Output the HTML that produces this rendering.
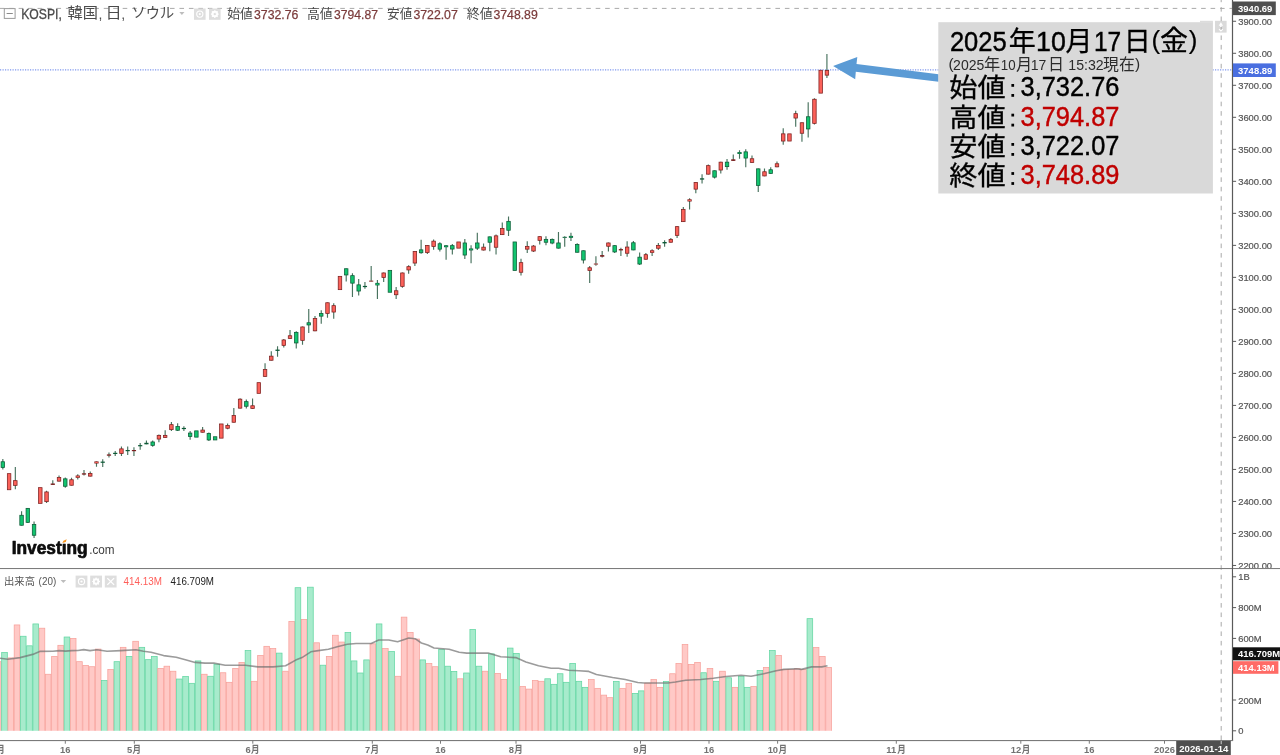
<!DOCTYPE html>
<html lang="ja"><head><meta charset="utf-8"><title>KOSPI chart</title>
<style>
html,body{margin:0;padding:0;background:#fff}
body{width:1280px;height:755px;overflow:hidden;position:relative;font-family:"Liberation Sans",sans-serif}
#c{position:absolute;left:0;top:0;width:1280px;height:755px;overflow:hidden;will-change:transform;transform:translateZ(0)}
#c svg{position:absolute;left:0;top:0}
</style></head>
<body><div id="c">
<svg width="1280" height="755" viewBox="0 0 1280 755">
<line x1="0" y1="69.9" x2="1232.5" y2="69.9" stroke="#7f97ee" stroke-width="1.1" stroke-dasharray="1.2 1.3"/>
<rect x="1215" y="20.8" width="11.6" height="11.8" fill="#dadada"/>
<line x1="-0.3" y1="8.4" x2="1232.5" y2="8.4" stroke="#a9a9a9" stroke-width="1" stroke-dasharray="4.6 4.86"/>
<line x1="1221.2" y1="-2.4" x2="1221.2" y2="740" stroke="#a9a9a9" stroke-width="1" stroke-dasharray="4.6 4.86"/>
<g><rect x="-4.55" y="661.68" width="5.64" height="71.42" fill="#ffc9c6" stroke="#f7a19b" stroke-width="0.75"/><rect x="1.69" y="652.62" width="5.64" height="80.48" fill="#a7ebcc" stroke="#62d6a2" stroke-width="0.75"/><rect x="7.94" y="657.9" width="5.64" height="75.2" fill="#ffc9c6" stroke="#f7a19b" stroke-width="0.75"/><rect x="14.18" y="624.94" width="5.64" height="108.16" fill="#ffc9c6" stroke="#f7a19b" stroke-width="0.75"/><rect x="20.42" y="636.26" width="5.64" height="96.84" fill="#a7ebcc" stroke="#62d6a2" stroke-width="0.75"/><rect x="26.67" y="645.82" width="5.64" height="87.28" fill="#a7ebcc" stroke="#62d6a2" stroke-width="0.75"/><rect x="32.91" y="623.93" width="5.64" height="109.17" fill="#a7ebcc" stroke="#62d6a2" stroke-width="0.75"/><rect x="39.15" y="628.21" width="5.64" height="104.89" fill="#ffc9c6" stroke="#f7a19b" stroke-width="0.75"/><rect x="45.39" y="674.26" width="5.64" height="58.84" fill="#ffc9c6" stroke="#f7a19b" stroke-width="0.75"/><rect x="51.64" y="656.39" width="5.64" height="76.71" fill="#ffc9c6" stroke="#f7a19b" stroke-width="0.75"/><rect x="57.88" y="645.32" width="5.64" height="87.78" fill="#ffc9c6" stroke="#f7a19b" stroke-width="0.75"/><rect x="64.12" y="637.02" width="5.64" height="96.08" fill="#a7ebcc" stroke="#62d6a2" stroke-width="0.75"/><rect x="70.37" y="638.53" width="5.64" height="94.57" fill="#ffc9c6" stroke="#f7a19b" stroke-width="0.75"/><rect x="76.61" y="661.68" width="5.64" height="71.42" fill="#ffc9c6" stroke="#f7a19b" stroke-width="0.75"/><rect x="82.85" y="665.45" width="5.64" height="67.65" fill="#ffc9c6" stroke="#f7a19b" stroke-width="0.75"/><rect x="89.09" y="666.71" width="5.64" height="66.39" fill="#ffc9c6" stroke="#f7a19b" stroke-width="0.75"/><rect x="95.34" y="649.09" width="5.64" height="84.01" fill="#ffc9c6" stroke="#f7a19b" stroke-width="0.75"/><rect x="101.58" y="680.55" width="5.64" height="52.55" fill="#a7ebcc" stroke="#62d6a2" stroke-width="0.75"/><rect x="107.82" y="669.48" width="5.64" height="63.62" fill="#ffc9c6" stroke="#f7a19b" stroke-width="0.75"/><rect x="114.07" y="661.68" width="5.64" height="71.42" fill="#a7ebcc" stroke="#62d6a2" stroke-width="0.75"/><rect x="120.31" y="647.33" width="5.64" height="85.77" fill="#ffc9c6" stroke="#f7a19b" stroke-width="0.75"/><rect x="126.55" y="656.39" width="5.64" height="76.71" fill="#a7ebcc" stroke="#62d6a2" stroke-width="0.75"/><rect x="132.8" y="641.29" width="5.64" height="91.81" fill="#ffc9c6" stroke="#f7a19b" stroke-width="0.75"/><rect x="139.04" y="647.33" width="5.64" height="85.77" fill="#a7ebcc" stroke="#62d6a2" stroke-width="0.75"/><rect x="145.28" y="659.66" width="5.64" height="73.44" fill="#a7ebcc" stroke="#62d6a2" stroke-width="0.75"/><rect x="151.53" y="656.39" width="5.64" height="76.71" fill="#a7ebcc" stroke="#62d6a2" stroke-width="0.75"/><rect x="157.77" y="668.47" width="5.64" height="64.63" fill="#ffc9c6" stroke="#f7a19b" stroke-width="0.75"/><rect x="164.01" y="666.21" width="5.64" height="66.89" fill="#ffc9c6" stroke="#f7a19b" stroke-width="0.75"/><rect x="170.25" y="671.24" width="5.64" height="61.86" fill="#ffc9c6" stroke="#f7a19b" stroke-width="0.75"/><rect x="176.5" y="679.04" width="5.64" height="54.06" fill="#a7ebcc" stroke="#62d6a2" stroke-width="0.75"/><rect x="182.74" y="676.52" width="5.64" height="56.58" fill="#a7ebcc" stroke="#62d6a2" stroke-width="0.75"/><rect x="188.98" y="683.32" width="5.64" height="49.78" fill="#a7ebcc" stroke="#62d6a2" stroke-width="0.75"/><rect x="195.23" y="660.92" width="5.64" height="72.18" fill="#a7ebcc" stroke="#62d6a2" stroke-width="0.75"/><rect x="201.47" y="674.26" width="5.64" height="58.84" fill="#ffc9c6" stroke="#f7a19b" stroke-width="0.75"/><rect x="207.71" y="676.27" width="5.64" height="56.83" fill="#a7ebcc" stroke="#62d6a2" stroke-width="0.75"/><rect x="213.96" y="664.19" width="5.64" height="68.91" fill="#a7ebcc" stroke="#62d6a2" stroke-width="0.75"/><rect x="220.2" y="672.75" width="5.64" height="60.35" fill="#ffc9c6" stroke="#f7a19b" stroke-width="0.75"/><rect x="226.44" y="682.31" width="5.64" height="50.79" fill="#ffc9c6" stroke="#f7a19b" stroke-width="0.75"/><rect x="232.68" y="668.47" width="5.64" height="64.63" fill="#ffc9c6" stroke="#f7a19b" stroke-width="0.75"/><rect x="238.93" y="662.43" width="5.64" height="70.67" fill="#ffc9c6" stroke="#f7a19b" stroke-width="0.75"/><rect x="245.17" y="650.6" width="5.64" height="82.5" fill="#a7ebcc" stroke="#62d6a2" stroke-width="0.75"/><rect x="251.41" y="681.3" width="5.64" height="51.8" fill="#ffc9c6" stroke="#f7a19b" stroke-width="0.75"/><rect x="257.66" y="655.39" width="5.64" height="77.71" fill="#ffc9c6" stroke="#f7a19b" stroke-width="0.75"/><rect x="263.9" y="646.33" width="5.64" height="86.77" fill="#ffc9c6" stroke="#f7a19b" stroke-width="0.75"/><rect x="270.14" y="648.59" width="5.64" height="84.51" fill="#ffc9c6" stroke="#f7a19b" stroke-width="0.75"/><rect x="276.39" y="653.12" width="5.64" height="79.98" fill="#a7ebcc" stroke="#62d6a2" stroke-width="0.75"/><rect x="282.63" y="671.24" width="5.64" height="61.86" fill="#ffc9c6" stroke="#f7a19b" stroke-width="0.75"/><rect x="288.87" y="621.41" width="5.64" height="111.69" fill="#ffc9c6" stroke="#f7a19b" stroke-width="0.75"/><rect x="295.11" y="587.7" width="5.64" height="145.4" fill="#a7ebcc" stroke="#62d6a2" stroke-width="0.75"/><rect x="301.36" y="619.4" width="5.64" height="113.7" fill="#ffc9c6" stroke="#f7a19b" stroke-width="0.75"/><rect x="307.6" y="587.19" width="5.64" height="145.91" fill="#a7ebcc" stroke="#62d6a2" stroke-width="0.75"/><rect x="313.84" y="642.8" width="5.64" height="90.3" fill="#ffc9c6" stroke="#f7a19b" stroke-width="0.75"/><rect x="320.09" y="665.2" width="5.64" height="67.9" fill="#a7ebcc" stroke="#62d6a2" stroke-width="0.75"/><rect x="326.33" y="656.39" width="5.64" height="76.71" fill="#ffc9c6" stroke="#f7a19b" stroke-width="0.75"/><rect x="332.57" y="635.25" width="5.64" height="97.85" fill="#ffc9c6" stroke="#f7a19b" stroke-width="0.75"/><rect x="338.82" y="642.05" width="5.64" height="91.05" fill="#ffc9c6" stroke="#f7a19b" stroke-width="0.75"/><rect x="345.06" y="632.49" width="5.64" height="100.61" fill="#a7ebcc" stroke="#62d6a2" stroke-width="0.75"/><rect x="351.3" y="660.92" width="5.64" height="72.18" fill="#a7ebcc" stroke="#62d6a2" stroke-width="0.75"/><rect x="357.54" y="673" width="5.64" height="60.1" fill="#a7ebcc" stroke="#62d6a2" stroke-width="0.75"/><rect x="363.79" y="659.91" width="5.64" height="73.19" fill="#a7ebcc" stroke="#62d6a2" stroke-width="0.75"/><rect x="370.03" y="643.81" width="5.64" height="89.29" fill="#ffc9c6" stroke="#f7a19b" stroke-width="0.75"/><rect x="376.27" y="623.93" width="5.64" height="109.17" fill="#a7ebcc" stroke="#62d6a2" stroke-width="0.75"/><rect x="382.52" y="648.59" width="5.64" height="84.51" fill="#ffc9c6" stroke="#f7a19b" stroke-width="0.75"/><rect x="388.76" y="651.61" width="5.64" height="81.49" fill="#a7ebcc" stroke="#62d6a2" stroke-width="0.75"/><rect x="395" y="676.27" width="5.64" height="56.83" fill="#ffc9c6" stroke="#f7a19b" stroke-width="0.75"/><rect x="401.25" y="617.14" width="5.64" height="115.96" fill="#ffc9c6" stroke="#f7a19b" stroke-width="0.75"/><rect x="407.49" y="632.49" width="5.64" height="100.61" fill="#ffc9c6" stroke="#f7a19b" stroke-width="0.75"/><rect x="413.73" y="639.03" width="5.64" height="94.07" fill="#ffc9c6" stroke="#f7a19b" stroke-width="0.75"/><rect x="419.97" y="659.91" width="5.64" height="73.19" fill="#a7ebcc" stroke="#62d6a2" stroke-width="0.75"/><rect x="426.22" y="663.44" width="5.64" height="69.66" fill="#ffc9c6" stroke="#f7a19b" stroke-width="0.75"/><rect x="432.46" y="666.71" width="5.64" height="66.39" fill="#ffc9c6" stroke="#f7a19b" stroke-width="0.75"/><rect x="438.7" y="649.6" width="5.64" height="83.5" fill="#a7ebcc" stroke="#62d6a2" stroke-width="0.75"/><rect x="444.95" y="666.21" width="5.64" height="66.89" fill="#a7ebcc" stroke="#62d6a2" stroke-width="0.75"/><rect x="451.19" y="671.49" width="5.64" height="61.61" fill="#a7ebcc" stroke="#62d6a2" stroke-width="0.75"/><rect x="457.43" y="678.79" width="5.64" height="54.31" fill="#ffc9c6" stroke="#f7a19b" stroke-width="0.75"/><rect x="463.68" y="673" width="5.64" height="60.1" fill="#a7ebcc" stroke="#62d6a2" stroke-width="0.75"/><rect x="469.92" y="629.47" width="5.64" height="103.63" fill="#a7ebcc" stroke="#62d6a2" stroke-width="0.75"/><rect x="476.16" y="666.21" width="5.64" height="66.89" fill="#a7ebcc" stroke="#62d6a2" stroke-width="0.75"/><rect x="482.4" y="671.24" width="5.64" height="61.86" fill="#ffc9c6" stroke="#f7a19b" stroke-width="0.75"/><rect x="488.65" y="653.88" width="5.64" height="79.22" fill="#a7ebcc" stroke="#62d6a2" stroke-width="0.75"/><rect x="494.89" y="673.5" width="5.64" height="59.6" fill="#ffc9c6" stroke="#f7a19b" stroke-width="0.75"/><rect x="501.13" y="679.54" width="5.64" height="53.56" fill="#ffc9c6" stroke="#f7a19b" stroke-width="0.75"/><rect x="507.38" y="648.09" width="5.64" height="85.01" fill="#a7ebcc" stroke="#62d6a2" stroke-width="0.75"/><rect x="513.62" y="653.37" width="5.64" height="79.73" fill="#a7ebcc" stroke="#62d6a2" stroke-width="0.75"/><rect x="519.86" y="686.59" width="5.64" height="46.51" fill="#ffc9c6" stroke="#f7a19b" stroke-width="0.75"/><rect x="526.1" y="689.1" width="5.64" height="44" fill="#ffc9c6" stroke="#f7a19b" stroke-width="0.75"/><rect x="532.35" y="680.55" width="5.64" height="52.55" fill="#ffc9c6" stroke="#f7a19b" stroke-width="0.75"/><rect x="538.59" y="681.3" width="5.64" height="51.8" fill="#ffc9c6" stroke="#f7a19b" stroke-width="0.75"/><rect x="544.83" y="678.79" width="5.64" height="54.31" fill="#a7ebcc" stroke="#62d6a2" stroke-width="0.75"/><rect x="551.08" y="684.32" width="5.64" height="48.78" fill="#a7ebcc" stroke="#62d6a2" stroke-width="0.75"/><rect x="557.32" y="673.75" width="5.64" height="59.35" fill="#a7ebcc" stroke="#62d6a2" stroke-width="0.75"/><rect x="563.56" y="682.31" width="5.64" height="50.79" fill="#a7ebcc" stroke="#62d6a2" stroke-width="0.75"/><rect x="569.81" y="663.44" width="5.64" height="69.66" fill="#a7ebcc" stroke="#62d6a2" stroke-width="0.75"/><rect x="576.05" y="681.3" width="5.64" height="51.8" fill="#a7ebcc" stroke="#62d6a2" stroke-width="0.75"/><rect x="582.29" y="687.34" width="5.64" height="45.76" fill="#a7ebcc" stroke="#62d6a2" stroke-width="0.75"/><rect x="588.53" y="679.54" width="5.64" height="53.56" fill="#ffc9c6" stroke="#f7a19b" stroke-width="0.75"/><rect x="594.78" y="688.35" width="5.64" height="44.75" fill="#ffc9c6" stroke="#f7a19b" stroke-width="0.75"/><rect x="601.02" y="695.14" width="5.64" height="37.96" fill="#ffc9c6" stroke="#f7a19b" stroke-width="0.75"/><rect x="607.26" y="697.66" width="5.64" height="35.44" fill="#ffc9c6" stroke="#f7a19b" stroke-width="0.75"/><rect x="613.51" y="681.56" width="5.64" height="51.54" fill="#a7ebcc" stroke="#62d6a2" stroke-width="0.75"/><rect x="619.75" y="688.35" width="5.64" height="44.75" fill="#ffc9c6" stroke="#f7a19b" stroke-width="0.75"/><rect x="625.99" y="683.57" width="5.64" height="49.53" fill="#ffc9c6" stroke="#f7a19b" stroke-width="0.75"/><rect x="632.24" y="693.38" width="5.64" height="39.72" fill="#a7ebcc" stroke="#62d6a2" stroke-width="0.75"/><rect x="638.48" y="690.87" width="5.64" height="42.23" fill="#a7ebcc" stroke="#62d6a2" stroke-width="0.75"/><rect x="644.72" y="683.07" width="5.64" height="50.03" fill="#ffc9c6" stroke="#f7a19b" stroke-width="0.75"/><rect x="650.96" y="679.54" width="5.64" height="53.56" fill="#ffc9c6" stroke="#f7a19b" stroke-width="0.75"/><rect x="657.21" y="687.34" width="5.64" height="45.76" fill="#ffc9c6" stroke="#f7a19b" stroke-width="0.75"/><rect x="663.45" y="681.56" width="5.64" height="51.54" fill="#a7ebcc" stroke="#62d6a2" stroke-width="0.75"/><rect x="669.69" y="673.75" width="5.64" height="59.35" fill="#ffc9c6" stroke="#f7a19b" stroke-width="0.75"/><rect x="675.94" y="663.44" width="5.64" height="69.66" fill="#ffc9c6" stroke="#f7a19b" stroke-width="0.75"/><rect x="682.18" y="644.57" width="5.64" height="88.53" fill="#ffc9c6" stroke="#f7a19b" stroke-width="0.75"/><rect x="688.42" y="664.44" width="5.64" height="68.66" fill="#ffc9c6" stroke="#f7a19b" stroke-width="0.75"/><rect x="694.67" y="662.43" width="5.64" height="70.67" fill="#ffc9c6" stroke="#f7a19b" stroke-width="0.75"/><rect x="700.91" y="672.75" width="5.64" height="60.35" fill="#a7ebcc" stroke="#62d6a2" stroke-width="0.75"/><rect x="707.15" y="668.47" width="5.64" height="64.63" fill="#ffc9c6" stroke="#f7a19b" stroke-width="0.75"/><rect x="713.39" y="681.3" width="5.64" height="51.8" fill="#a7ebcc" stroke="#62d6a2" stroke-width="0.75"/><rect x="719.64" y="671.24" width="5.64" height="61.86" fill="#ffc9c6" stroke="#f7a19b" stroke-width="0.75"/><rect x="725.88" y="677.78" width="5.64" height="55.32" fill="#a7ebcc" stroke="#62d6a2" stroke-width="0.75"/><rect x="732.12" y="687.34" width="5.64" height="45.76" fill="#ffc9c6" stroke="#f7a19b" stroke-width="0.75"/><rect x="738.37" y="676.27" width="5.64" height="56.83" fill="#a7ebcc" stroke="#62d6a2" stroke-width="0.75"/><rect x="744.61" y="687.34" width="5.64" height="45.76" fill="#a7ebcc" stroke="#62d6a2" stroke-width="0.75"/><rect x="750.85" y="686.59" width="5.64" height="46.51" fill="#ffc9c6" stroke="#f7a19b" stroke-width="0.75"/><rect x="757.1" y="670.48" width="5.64" height="62.62" fill="#a7ebcc" stroke="#62d6a2" stroke-width="0.75"/><rect x="763.34" y="667.46" width="5.64" height="65.64" fill="#ffc9c6" stroke="#f7a19b" stroke-width="0.75"/><rect x="769.58" y="650.6" width="5.64" height="82.5" fill="#a7ebcc" stroke="#62d6a2" stroke-width="0.75"/><rect x="775.82" y="655.39" width="5.64" height="77.71" fill="#ffc9c6" stroke="#f7a19b" stroke-width="0.75"/><rect x="782.07" y="669.48" width="5.64" height="63.62" fill="#ffc9c6" stroke="#f7a19b" stroke-width="0.75"/><rect x="788.31" y="669.48" width="5.64" height="63.62" fill="#ffc9c6" stroke="#f7a19b" stroke-width="0.75"/><rect x="794.55" y="668.72" width="5.64" height="64.38" fill="#ffc9c6" stroke="#f7a19b" stroke-width="0.75"/><rect x="800.8" y="669.48" width="5.64" height="63.62" fill="#ffc9c6" stroke="#f7a19b" stroke-width="0.75"/><rect x="807.04" y="618.65" width="5.64" height="114.45" fill="#a7ebcc" stroke="#62d6a2" stroke-width="0.75"/><rect x="813.28" y="647.58" width="5.64" height="85.52" fill="#ffc9c6" stroke="#f7a19b" stroke-width="0.75"/><rect x="819.53" y="656.39" width="5.64" height="76.71" fill="#ffc9c6" stroke="#f7a19b" stroke-width="0.75"/><rect x="825.77" y="667.46" width="5.64" height="65.64" fill="#ffc9c6" stroke="#f7a19b" stroke-width="0.75"/></g>
<rect x="0" y="730.8" width="840" height="9" fill="#fff"/>
<polyline points="0,658.3 7.8,659.2 20.1,657.6 32.7,654.4 39.7,651.4 52.9,651.2 59.2,650.6 65.5,651.1 71.8,650.6 78,650.5 83.7,649.6 90,650.6 96.9,649.8 107,651.2 120.8,650.6 136,649.8 143.5,651.3 151,652.3 163.6,655.6 176.2,657.3 186.3,660.1 195.1,662.4 205,663.1 213.8,663.1 225.2,665.2 245.3,665.2 257.9,666.9 273,666.9 285.6,665.7 295.7,660.1 302,657.6 310.8,651.8 318.3,650.6 328.4,649.3 337.2,646.8 347.3,644.3 356.1,643.5 371.2,643.5 378.7,640 388.8,640 397.6,641.7 408.8,638 415.1,638.7 421.4,643 427.7,645 434,648 449.1,649.3 459.2,652.3 466.7,653.1 488.1,653.1 500.7,656.8 515.8,657.6 525.9,661.9 538.5,665.7 551.1,668.2 558.6,668.2 568.7,670.2 578.8,670.7 588.8,671.4 596.4,674.5 612.6,677.5 625.2,679.5 637.8,682.5 644.1,683 668,683 675.5,682 685.6,680.2 700.7,679.5 713.3,678.2 725.9,676.5 741,675.2 751.1,676.2 763.7,673.7 776.2,670.7 783.8,669.4 796.4,668.7 801.5,669.4 811.6,666.9 821.7,666.9 827.5,665.7" fill="none" stroke="#707070" stroke-opacity="0.7" stroke-width="1.6" stroke-linejoin="round"/>
<path d="M2.84 458.9V469.6M15.33 467.1V489.3M21.57 511.3V525.6M27.82 508V523.1M34.06 521.5V538.1M46.54 490.7V502.9M52.79 480.3V484.9M59.03 475.6V481.5M65.27 477.5V487.8M71.52 477.8V485.6M77.76 474.2V479.6M84 470V475.6M90.25 471.5V476.5M96.49 461.4V466.8M102.73 459.3V466.9M108.97 452.6V457.5M115.22 451V456M121.46 446.6V456M127.7 446.6V455M133.95 447.2V456M140.19 443.1V449.7M146.43 440.6V444.3M152.68 440.6V446.8M158.92 434.4V442.2M165.16 430.2V437.8M171.4 422V431.1M177.65 423.3V430.9M183.89 426.2V430.9M190.13 431.1V439.7M202.62 427V432.6M208.86 432.5V440.9M227.59 423.4V429.3M233.83 408.1V422.6M240.08 398.2V408.5M246.32 399.5V408.5M252.56 398.4V408.8M265.05 363.3V376.7M271.29 351.3V360.6M277.54 346.3V356.8M283.78 339V347.6M290.02 330V338.8M296.26 331.2V348.6M302.51 326.6V344.8M308.75 309V332.9M314.99 316.1V331.2M321.24 310.2V323.7M327.48 302.4V317.8M333.72 303.3V318.7M346.21 268.4V281.6M352.45 273.2V297M358.69 279.1V295.4M364.94 281.9V288.8M371.18 265.9V281.6M377.42 280V298.9M383.67 272.6V281.9M396.15 287V298.9M402.4 272.6V287.7M408.64 265.3V273.8M414.88 251.2V266.1M421.12 239.7V253.7M427.37 245.1V253.9M433.61 239.6V249.7M439.85 242.2V251.6M446.1 245V259.8M452.34 244V254.5M464.83 239V258.9M471.07 245.3V263.3M477.31 232.7V250M483.55 243.4V250.4M489.8 236.5V251.2M496.04 234.6V254.4M502.28 222.4V235M508.53 216.4V235.9M521.01 258.8V275.5M527.25 241.2V253.1M533.5 245V252M539.74 236.3V244.5M545.98 236.3V245.3M552.23 238.4V244.3M558.47 232.1V248.5M564.71 236.3V246.8M570.96 232.7V240.9M577.2 243.2V252.6M583.44 250.4V263.6M589.69 266.1V283.1M595.93 256.3V265.8M602.17 251V257.5M608.41 242.6V251.4M614.66 245.3V253.1M620.9 247.8V255.9M627.14 241.3V256.8M633.39 241.1V250.3M639.63 252.4V265M645.87 253.1V259.6M652.12 249.3V256M658.36 243V249.9M664.6 240.2V246.8M670.84 238V242.6M677.09 226.3V238M683.33 207.1V222M689.57 198.3V209.6M695.82 182.2V193.3M702.06 174.2V183.6M708.3 164.5V174.5M714.55 170.4V178.5M720.79 161.8V173.5M727.03 159V169.7M733.27 154.6V160.9M739.52 150.2V158.7M745.76 149.2V167.2M752 155.5V162.8M758.25 168.5V192M764.49 168.5V176.3M770.73 167.2V173.8M776.98 161.6V167.2M783.22 128.2V144.8M795.7 110.8V126.8M801.95 122.4V141.7M808.19 102.3V137.5M814.43 98.3V124.5M826.92 54.1V78" stroke="#48725e" stroke-width="1.15" fill="none"/>
<g><rect x="1.09" y="461.75" width="3.5" height="5.8" fill="#12c46f" stroke="#0c5a36" stroke-width="0.75"/><rect x="7.34" y="473.65" width="3.5" height="16.1" fill="#fb6159" stroke="#7c1f1f" stroke-width="0.75"/><rect x="13.58" y="480.65" width="3.5" height="4.7" fill="#fb6159" stroke="#7c1f1f" stroke-width="0.75"/><rect x="19.82" y="515.25" width="3.5" height="10" fill="#12c46f" stroke="#0c5a36" stroke-width="0.75"/><rect x="26.07" y="508.35" width="3.5" height="14" fill="#12c46f" stroke="#0c5a36" stroke-width="0.75"/><rect x="32.31" y="524.45" width="3.5" height="10.8" fill="#12c46f" stroke="#0c5a36" stroke-width="0.75"/><rect x="38.55" y="487.65" width="3.5" height="15.7" fill="#fb6159" stroke="#7c1f1f" stroke-width="0.75"/><rect x="44.79" y="491.95" width="3.5" height="9.7" fill="#fb6159" stroke="#7c1f1f" stroke-width="0.75"/><rect x="50.69" y="483.5" width="4.2" height="1.4" fill="#7c1f1f"/><rect x="57.28" y="477.45" width="3.5" height="3.7" fill="#fb6159" stroke="#7c1f1f" stroke-width="0.75"/><rect x="63.52" y="478.85" width="3.5" height="7.4" fill="#12c46f" stroke="#0c5a36" stroke-width="0.75"/><rect x="69.77" y="479.75" width="3.5" height="5.5" fill="#fb6159" stroke="#7c1f1f" stroke-width="0.75"/><rect x="75.66" y="475.5" width="4.2" height="2.3" fill="#7c1f1f"/><rect x="76.36" y="476.05" width="2.8" height="1.2" fill="#fb6159"/><rect x="81.9" y="473.3" width="4.2" height="1.3" fill="#7c1f1f"/><rect x="88.5" y="473.45" width="3.5" height="2.7" fill="#fb6159" stroke="#7c1f1f" stroke-width="0.75"/><rect x="94.39" y="461.4" width="4.2" height="2.1" fill="#7c1f1f"/><rect x="95.09" y="461.95" width="2.8" height="1" fill="#fb6159"/><rect x="100.63" y="461.6" width="4.2" height="1.2" fill="#0c5a36"/><rect x="106.87" y="454.4" width="4.2" height="1.3" fill="#7c1f1f"/><rect x="113.12" y="452.8" width="4.2" height="1.2" fill="#0c5a36"/><rect x="119.71" y="448.85" width="3.5" height="4.7" fill="#fb6159" stroke="#7c1f1f" stroke-width="0.75"/><rect x="125.6" y="450" width="4.2" height="1.2" fill="#0c5a36"/><rect x="131.85" y="450" width="4.2" height="1.2" fill="#7c1f1f"/><rect x="138.09" y="445.1" width="4.2" height="1.2" fill="#0c5a36"/><rect x="144.33" y="442.8" width="4.2" height="1.5" fill="#0c5a36"/><rect x="150.93" y="441.95" width="3.5" height="3.4" fill="#12c46f" stroke="#0c5a36" stroke-width="0.75"/><rect x="157.17" y="435.35" width="3.5" height="3.7" fill="#fb6159" stroke="#7c1f1f" stroke-width="0.75"/><rect x="163.41" y="435.35" width="3.5" height="2.1" fill="#fb6159" stroke="#7c1f1f" stroke-width="0.75"/><rect x="169.65" y="424.65" width="3.5" height="5" fill="#fb6159" stroke="#7c1f1f" stroke-width="0.75"/><rect x="175.9" y="426.55" width="3.5" height="3.7" fill="#12c46f" stroke="#0c5a36" stroke-width="0.75"/><rect x="181.79" y="427.9" width="4.2" height="1.2" fill="#0c5a36"/><rect x="188.38" y="433.05" width="3.5" height="3.5" fill="#12c46f" stroke="#0c5a36" stroke-width="0.75"/><rect x="194.63" y="430.85" width="3.5" height="6.3" fill="#12c46f" stroke="#0c5a36" stroke-width="0.75"/><rect x="200.87" y="430.05" width="3.5" height="2.2" fill="#fb6159" stroke="#7c1f1f" stroke-width="0.75"/><rect x="207.11" y="433.45" width="3.5" height="6.5" fill="#12c46f" stroke="#0c5a36" stroke-width="0.75"/><rect x="213.36" y="436.75" width="3.5" height="3.2" fill="#12c46f" stroke="#0c5a36" stroke-width="0.75"/><rect x="219.6" y="423.95" width="3.5" height="14.2" fill="#fb6159" stroke="#7c1f1f" stroke-width="0.75"/><rect x="225.84" y="425.45" width="3.5" height="2.8" fill="#fb6159" stroke="#7c1f1f" stroke-width="0.75"/><rect x="232.08" y="415.45" width="3.5" height="6.8" fill="#fb6159" stroke="#7c1f1f" stroke-width="0.75"/><rect x="238.33" y="399.15" width="3.5" height="9" fill="#fb6159" stroke="#7c1f1f" stroke-width="0.75"/><rect x="244.57" y="401.65" width="3.5" height="4.6" fill="#12c46f" stroke="#0c5a36" stroke-width="0.75"/><rect x="250.81" y="405.75" width="3.5" height="2.7" fill="#fb6159" stroke="#7c1f1f" stroke-width="0.75"/><rect x="257.06" y="382.65" width="3.5" height="10.7" fill="#fb6159" stroke="#7c1f1f" stroke-width="0.75"/><rect x="263.3" y="369.55" width="3.5" height="6.8" fill="#fb6159" stroke="#7c1f1f" stroke-width="0.75"/><rect x="269.54" y="356.15" width="3.5" height="4.1" fill="#fb6159" stroke="#7c1f1f" stroke-width="0.75"/><rect x="275.44" y="349.6" width="4.2" height="1.3" fill="#0c5a36"/><rect x="282.03" y="339.95" width="3.5" height="5.4" fill="#fb6159" stroke="#7c1f1f" stroke-width="0.75"/><rect x="288.27" y="335.75" width="3.5" height="2.7" fill="#fb6159" stroke="#7c1f1f" stroke-width="0.75"/><rect x="294.51" y="332.35" width="3.5" height="10.6" fill="#12c46f" stroke="#0c5a36" stroke-width="0.75"/><rect x="300.76" y="326.95" width="3.5" height="13.4" fill="#fb6159" stroke="#7c1f1f" stroke-width="0.75"/><rect x="307" y="322.75" width="3.5" height="2.2" fill="#12c46f" stroke="#0c5a36" stroke-width="0.75"/><rect x="313.24" y="318.55" width="3.5" height="12.3" fill="#fb6159" stroke="#7c1f1f" stroke-width="0.75"/><rect x="319.49" y="313.45" width="3.5" height="2.7" fill="#12c46f" stroke="#0c5a36" stroke-width="0.75"/><rect x="325.73" y="302.75" width="3.5" height="10.7" fill="#fb6159" stroke="#7c1f1f" stroke-width="0.75"/><rect x="331.97" y="305.65" width="3.5" height="6.4" fill="#fb6159" stroke="#7c1f1f" stroke-width="0.75"/><rect x="338.22" y="276.35" width="3.5" height="13.3" fill="#fb6159" stroke="#7c1f1f" stroke-width="0.75"/><rect x="344.46" y="268.75" width="3.5" height="6.2" fill="#12c46f" stroke="#0c5a36" stroke-width="0.75"/><rect x="350.7" y="275.65" width="3.5" height="7.5" fill="#12c46f" stroke="#0c5a36" stroke-width="0.75"/><rect x="356.94" y="284.85" width="3.5" height="6.2" fill="#12c46f" stroke="#0c5a36" stroke-width="0.75"/><rect x="362.84" y="285.9" width="4.2" height="1.2" fill="#0c5a36"/><rect x="369.08" y="280.55" width="4.2" height="1.2" fill="#a24c4a"/><rect x="375.32" y="282.9" width="4.2" height="2.5" fill="#0c5a36"/><rect x="376.02" y="283.45" width="2.8" height="1.4" fill="#12c46f"/><rect x="381.92" y="272.95" width="3.5" height="4.6" fill="#fb6159" stroke="#7c1f1f" stroke-width="0.75"/><rect x="388.16" y="270.35" width="3.5" height="21.9" fill="#12c46f" stroke="#0c5a36" stroke-width="0.75"/><rect x="394.4" y="290.75" width="3.5" height="4" fill="#fb6159" stroke="#7c1f1f" stroke-width="0.75"/><rect x="400.65" y="272.95" width="3.5" height="13.4" fill="#fb6159" stroke="#7c1f1f" stroke-width="0.75"/><rect x="406.89" y="266.65" width="3.5" height="3.3" fill="#fb6159" stroke="#7c1f1f" stroke-width="0.75"/><rect x="413.13" y="251.55" width="3.5" height="11.5" fill="#fb6159" stroke="#7c1f1f" stroke-width="0.75"/><rect x="419.37" y="249.85" width="3.5" height="2.9" fill="#12c46f" stroke="#0c5a36" stroke-width="0.75"/><rect x="425.62" y="245.45" width="3.5" height="7.1" fill="#fb6159" stroke="#7c1f1f" stroke-width="0.75"/><rect x="431.86" y="241.15" width="3.5" height="5.4" fill="#fb6159" stroke="#7c1f1f" stroke-width="0.75"/><rect x="438.1" y="243.75" width="3.5" height="5.4" fill="#12c46f" stroke="#0c5a36" stroke-width="0.75"/><rect x="444" y="245.3" width="4.2" height="1.9" fill="#0c5a36"/><rect x="444.7" y="245.85" width="2.8" height="0.8" fill="#12c46f"/><rect x="450.59" y="245.65" width="3.5" height="3.4" fill="#12c46f" stroke="#0c5a36" stroke-width="0.75"/><rect x="456.83" y="241.95" width="3.5" height="6.2" fill="#fb6159" stroke="#7c1f1f" stroke-width="0.75"/><rect x="463.08" y="242.95" width="3.5" height="12.1" fill="#12c46f" stroke="#0c5a36" stroke-width="0.75"/><rect x="468.97" y="248.5" width="4.2" height="1.9" fill="#0c5a36"/><rect x="469.67" y="249.05" width="2.8" height="0.8" fill="#12c46f"/><rect x="475.56" y="242.95" width="3.5" height="5.2" fill="#12c46f" stroke="#0c5a36" stroke-width="0.75"/><rect x="481.8" y="247.15" width="3.5" height="2.9" fill="#fb6159" stroke="#7c1f1f" stroke-width="0.75"/><rect x="488.05" y="236.85" width="3.5" height="5.4" fill="#12c46f" stroke="#0c5a36" stroke-width="0.75"/><rect x="494.29" y="235.85" width="3.5" height="11.4" fill="#fb6159" stroke="#7c1f1f" stroke-width="0.75"/><rect x="500.53" y="228.45" width="3.5" height="6.2" fill="#fb6159" stroke="#7c1f1f" stroke-width="0.75"/><rect x="506.78" y="221.35" width="3.5" height="8.9" fill="#12c46f" stroke="#0c5a36" stroke-width="0.75"/><rect x="513.02" y="241.95" width="3.5" height="28.6" fill="#12c46f" stroke="#0c5a36" stroke-width="0.75"/><rect x="519.26" y="262.65" width="3.5" height="9.6" fill="#fb6159" stroke="#7c1f1f" stroke-width="0.75"/><rect x="525.5" y="246.35" width="3.5" height="2.8" fill="#fb6159" stroke="#7c1f1f" stroke-width="0.75"/><rect x="531.75" y="246.05" width="3.5" height="5" fill="#fb6159" stroke="#7c1f1f" stroke-width="0.75"/><rect x="537.99" y="236.65" width="3.5" height="3.7" fill="#fb6159" stroke="#7c1f1f" stroke-width="0.75"/><rect x="544.23" y="239.35" width="3.5" height="2.9" fill="#12c46f" stroke="#0c5a36" stroke-width="0.75"/><rect x="550.48" y="239.35" width="3.5" height="3.7" fill="#12c46f" stroke="#0c5a36" stroke-width="0.75"/><rect x="556.72" y="242.95" width="3.5" height="5.2" fill="#12c46f" stroke="#0c5a36" stroke-width="0.75"/><rect x="562.61" y="236.8" width="4.2" height="1.2" fill="#2f7a57"/><rect x="568.86" y="235.9" width="4.2" height="1.9" fill="#0c5a36"/><rect x="569.56" y="236.45" width="2.8" height="0.8" fill="#12c46f"/><rect x="575.45" y="244.45" width="3.5" height="7.8" fill="#12c46f" stroke="#0c5a36" stroke-width="0.75"/><rect x="581.69" y="250.75" width="3.5" height="9.3" fill="#12c46f" stroke="#0c5a36" stroke-width="0.75"/><rect x="587.94" y="267.75" width="3.5" height="2.8" fill="#fb6159" stroke="#7c1f1f" stroke-width="0.75"/><rect x="593.83" y="263.45" width="4.2" height="1.2" fill="#a24c4a"/><rect x="600.07" y="255.1" width="4.2" height="1.6" fill="#7c1f1f"/><rect x="606.66" y="242.95" width="3.5" height="3.3" fill="#fb6159" stroke="#7c1f1f" stroke-width="0.75"/><rect x="612.91" y="245.65" width="3.5" height="6.3" fill="#12c46f" stroke="#0c5a36" stroke-width="0.75"/><rect x="618.8" y="249.1" width="4.2" height="1.3" fill="#7c1f1f"/><rect x="625.39" y="247.05" width="3.5" height="6.2" fill="#fb6159" stroke="#7c1f1f" stroke-width="0.75"/><rect x="631.64" y="242.75" width="3.5" height="7.2" fill="#12c46f" stroke="#0c5a36" stroke-width="0.75"/><rect x="637.88" y="257.15" width="3.5" height="6.9" fill="#12c46f" stroke="#0c5a36" stroke-width="0.75"/><rect x="644.12" y="254.65" width="3.5" height="4.6" fill="#fb6159" stroke="#7c1f1f" stroke-width="0.75"/><rect x="650.01" y="250.3" width="4.2" height="2.5" fill="#7c1f1f"/><rect x="650.72" y="250.85" width="2.8" height="1.4" fill="#fb6159"/><rect x="656.61" y="245.45" width="3.5" height="2.8" fill="#fb6159" stroke="#7c1f1f" stroke-width="0.75"/><rect x="662.5" y="242" width="4.2" height="1.4" fill="#0c5a36"/><rect x="669.09" y="239.35" width="3.5" height="2.9" fill="#fb6159" stroke="#7c1f1f" stroke-width="0.75"/><rect x="675.34" y="226.65" width="3.5" height="8.7" fill="#fb6159" stroke="#7c1f1f" stroke-width="0.75"/><rect x="681.58" y="209.35" width="3.5" height="12.3" fill="#fb6159" stroke="#7c1f1f" stroke-width="0.75"/><rect x="687.47" y="199.3" width="4.2" height="2.2" fill="#7c1f1f"/><rect x="688.17" y="199.85" width="2.8" height="1.1" fill="#fb6159"/><rect x="694.07" y="182.55" width="3.5" height="6.6" fill="#fb6159" stroke="#7c1f1f" stroke-width="0.75"/><rect x="699.96" y="178.3" width="4.2" height="1.3" fill="#0c5a36"/><rect x="706.55" y="165.65" width="3.5" height="8.5" fill="#fb6159" stroke="#7c1f1f" stroke-width="0.75"/><rect x="712.8" y="170.75" width="3.5" height="6.4" fill="#12c46f" stroke="#0c5a36" stroke-width="0.75"/><rect x="719.04" y="162.15" width="3.5" height="7.9" fill="#fb6159" stroke="#7c1f1f" stroke-width="0.75"/><rect x="725.28" y="162.15" width="3.5" height="4.5" fill="#12c46f" stroke="#0c5a36" stroke-width="0.75"/><rect x="731.17" y="159.3" width="4.2" height="1.6" fill="#7c1f1f"/><rect x="737.42" y="152.1" width="4.2" height="1.9" fill="#0c5a36"/><rect x="738.12" y="152.65" width="2.8" height="0.8" fill="#12c46f"/><rect x="744.01" y="151.85" width="3.5" height="6.2" fill="#12c46f" stroke="#0c5a36" stroke-width="0.75"/><rect x="750.25" y="158.75" width="3.5" height="3.7" fill="#fb6159" stroke="#7c1f1f" stroke-width="0.75"/><rect x="756.5" y="168.85" width="3.5" height="16.6" fill="#12c46f" stroke="#0c5a36" stroke-width="0.75"/><rect x="762.74" y="171.75" width="3.5" height="4.2" fill="#fb6159" stroke="#7c1f1f" stroke-width="0.75"/><rect x="768.98" y="169.75" width="3.5" height="3.7" fill="#12c46f" stroke="#0c5a36" stroke-width="0.75"/><rect x="775.23" y="163.75" width="3.5" height="3.1" fill="#fb6159" stroke="#7c1f1f" stroke-width="0.75"/><rect x="781.47" y="133.85" width="3.5" height="7.2" fill="#fb6159" stroke="#7c1f1f" stroke-width="0.75"/><rect x="787.71" y="133.85" width="3.5" height="7.2" fill="#fb6159" stroke="#7c1f1f" stroke-width="0.75"/><rect x="793.95" y="113.65" width="3.5" height="4.4" fill="#fb6159" stroke="#7c1f1f" stroke-width="0.75"/><rect x="800.2" y="122.75" width="3.5" height="10.5" fill="#fb6159" stroke="#7c1f1f" stroke-width="0.75"/><rect x="806.44" y="116.75" width="3.5" height="12.2" fill="#12c46f" stroke="#0c5a36" stroke-width="0.75"/><rect x="812.68" y="99.25" width="3.5" height="24.1" fill="#fb6159" stroke="#7c1f1f" stroke-width="0.75"/><rect x="818.93" y="70.25" width="3.5" height="22.9" fill="#fb6159" stroke="#7c1f1f" stroke-width="0.75"/><rect x="825.17" y="70.55" width="3.5" height="4.6" fill="#fb6159" stroke="#7c1f1f" stroke-width="0.75"/></g>
<rect x="0" y="568" width="1280" height="1.05" fill="#7c7c7c"/>
<rect x="1231.9" y="0" width="1.2" height="740.6" fill="#5a5a5a"/>
<rect x="0" y="740" width="1233.1" height="1.1" fill="#7a7a7a"/>
<rect x="1232.5" y="20.76" width="3.6" height="1" fill="#5a5a5a"/>
<text x="1238.2" y="24.76" font-size="9.4" fill="#555" stroke="#555" stroke-width="0.2" font-family="'Liberation Sans',sans-serif">3900.00</text>
<rect x="1232.5" y="52.78" width="3.6" height="1" fill="#5a5a5a"/>
<text x="1238.2" y="56.78" font-size="9.4" fill="#555" stroke="#555" stroke-width="0.2" font-family="'Liberation Sans',sans-serif">3800.00</text>
<rect x="1232.5" y="84.79" width="3.6" height="1" fill="#5a5a5a"/>
<text x="1238.2" y="88.79" font-size="9.4" fill="#555" stroke="#555" stroke-width="0.2" font-family="'Liberation Sans',sans-serif">3700.00</text>
<rect x="1232.5" y="116.8" width="3.6" height="1" fill="#5a5a5a"/>
<text x="1238.2" y="120.8" font-size="9.4" fill="#555" stroke="#555" stroke-width="0.2" font-family="'Liberation Sans',sans-serif">3600.00</text>
<rect x="1232.5" y="148.81" width="3.6" height="1" fill="#5a5a5a"/>
<text x="1238.2" y="152.81" font-size="9.4" fill="#555" stroke="#555" stroke-width="0.2" font-family="'Liberation Sans',sans-serif">3500.00</text>
<rect x="1232.5" y="180.82" width="3.6" height="1" fill="#5a5a5a"/>
<text x="1238.2" y="184.82" font-size="9.4" fill="#555" stroke="#555" stroke-width="0.2" font-family="'Liberation Sans',sans-serif">3400.00</text>
<rect x="1232.5" y="212.84" width="3.6" height="1" fill="#5a5a5a"/>
<text x="1238.2" y="216.84" font-size="9.4" fill="#555" stroke="#555" stroke-width="0.2" font-family="'Liberation Sans',sans-serif">3300.00</text>
<rect x="1232.5" y="244.85" width="3.6" height="1" fill="#5a5a5a"/>
<text x="1238.2" y="248.85" font-size="9.4" fill="#555" stroke="#555" stroke-width="0.2" font-family="'Liberation Sans',sans-serif">3200.00</text>
<rect x="1232.5" y="276.86" width="3.6" height="1" fill="#5a5a5a"/>
<text x="1238.2" y="280.86" font-size="9.4" fill="#555" stroke="#555" stroke-width="0.2" font-family="'Liberation Sans',sans-serif">3100.00</text>
<rect x="1232.5" y="308.87" width="3.6" height="1" fill="#5a5a5a"/>
<text x="1238.2" y="312.87" font-size="9.4" fill="#555" stroke="#555" stroke-width="0.2" font-family="'Liberation Sans',sans-serif">3000.00</text>
<rect x="1232.5" y="340.88" width="3.6" height="1" fill="#5a5a5a"/>
<text x="1238.2" y="344.88" font-size="9.4" fill="#555" stroke="#555" stroke-width="0.2" font-family="'Liberation Sans',sans-serif">2900.00</text>
<rect x="1232.5" y="372.9" width="3.6" height="1" fill="#5a5a5a"/>
<text x="1238.2" y="376.9" font-size="9.4" fill="#555" stroke="#555" stroke-width="0.2" font-family="'Liberation Sans',sans-serif">2800.00</text>
<rect x="1232.5" y="404.91" width="3.6" height="1" fill="#5a5a5a"/>
<text x="1238.2" y="408.91" font-size="9.4" fill="#555" stroke="#555" stroke-width="0.2" font-family="'Liberation Sans',sans-serif">2700.00</text>
<rect x="1232.5" y="436.92" width="3.6" height="1" fill="#5a5a5a"/>
<text x="1238.2" y="440.92" font-size="9.4" fill="#555" stroke="#555" stroke-width="0.2" font-family="'Liberation Sans',sans-serif">2600.00</text>
<rect x="1232.5" y="468.93" width="3.6" height="1" fill="#5a5a5a"/>
<text x="1238.2" y="472.93" font-size="9.4" fill="#555" stroke="#555" stroke-width="0.2" font-family="'Liberation Sans',sans-serif">2500.00</text>
<rect x="1232.5" y="500.94" width="3.6" height="1" fill="#5a5a5a"/>
<text x="1238.2" y="504.94" font-size="9.4" fill="#555" stroke="#555" stroke-width="0.2" font-family="'Liberation Sans',sans-serif">2400.00</text>
<rect x="1232.5" y="532.96" width="3.6" height="1" fill="#5a5a5a"/>
<text x="1238.2" y="536.96" font-size="9.4" fill="#555" stroke="#555" stroke-width="0.2" font-family="'Liberation Sans',sans-serif">2300.00</text>
<rect x="1232.5" y="564.97" width="3.6" height="1" fill="#5a5a5a"/>
<text x="1238.2" y="568.97" font-size="9.4" fill="#555" stroke="#555" stroke-width="0.2" font-family="'Liberation Sans',sans-serif">2200.00</text>
<rect x="1232.5" y="730.3" width="3.6" height="1" fill="#5a5a5a"/>
<text x="1238.2" y="734.3" font-size="9.4" fill="#555" stroke="#555" stroke-width="0.2" font-family="'Liberation Sans',sans-serif">0</text>
<rect x="1232.5" y="699.5" width="3.6" height="1" fill="#5a5a5a"/>
<text x="1238.2" y="703.5" font-size="9.4" fill="#555" stroke="#555" stroke-width="0.2" font-family="'Liberation Sans',sans-serif">200M</text>
<rect x="1232.5" y="637.9" width="3.6" height="1" fill="#5a5a5a"/>
<text x="1238.2" y="641.9" font-size="9.4" fill="#555" stroke="#555" stroke-width="0.2" font-family="'Liberation Sans',sans-serif">600M</text>
<rect x="1232.5" y="607.1" width="3.6" height="1" fill="#5a5a5a"/>
<text x="1238.2" y="611.1" font-size="9.4" fill="#555" stroke="#555" stroke-width="0.2" font-family="'Liberation Sans',sans-serif">800M</text>
<rect x="1232.5" y="576.3" width="3.6" height="1" fill="#5a5a5a"/>
<text x="1238.2" y="580.3" font-size="9.4" fill="#555" stroke="#555" stroke-width="0.2" font-family="'Liberation Sans',sans-serif">1B</text>
<rect x="-2.4" y="740.5" width="1" height="3.2" fill="#7a7a7a"/>
<rect x="64.8" y="740.5" width="1" height="3.2" fill="#7a7a7a"/>
<rect x="133.8" y="740.5" width="1" height="3.2" fill="#7a7a7a"/>
<rect x="252.3" y="740.5" width="1" height="3.2" fill="#7a7a7a"/>
<rect x="371.8" y="740.5" width="1" height="3.2" fill="#7a7a7a"/>
<rect x="440" y="740.5" width="1" height="3.2" fill="#7a7a7a"/>
<rect x="515.5" y="740.5" width="1" height="3.2" fill="#7a7a7a"/>
<rect x="640" y="740.5" width="1" height="3.2" fill="#7a7a7a"/>
<rect x="708.5" y="740.5" width="1" height="3.2" fill="#7a7a7a"/>
<rect x="777.1" y="740.5" width="1" height="3.2" fill="#7a7a7a"/>
<rect x="895.8" y="740.5" width="1" height="3.2" fill="#7a7a7a"/>
<rect x="1020.3" y="740.5" width="1" height="3.2" fill="#7a7a7a"/>
<rect x="1088.8" y="740.5" width="1" height="3.2" fill="#7a7a7a"/>
<rect x="1164" y="740.5" width="1" height="3.2" fill="#7a7a7a"/>
<rect x="1233.0" y="1.5" width="42.8" height="13.6" fill="#4f4f4f"/>
<rect x="1233.0" y="63.4" width="42.8" height="13.6" fill="#4a6fe0"/>
<rect x="1233.0" y="647.3" width="47.5" height="13" fill="#111"/>
<rect x="1233.0" y="661.2" width="45.4" height="12.6" fill="#ff6b66"/>
<rect x="1176.2" y="741" width="54.6" height="14" fill="#4f4f4f"/>
<polygon points="833.1,65.9 857.3,57.1 856.5,64.1 938.6,74.2 938.6,81.7 855.8,71.7 855.2,79.2" fill="#5b9bd5"/>
<rect x="938.3" y="22.2" width="274.6" height="171.3" fill="#d9d9d9"/>
<rect x="1200" y="20.8" width="12.9" height="2" fill="#dcdcdc"/>
<path d="M1218.7 25.7L1220.9 22.3L1223.1 25.7Z" fill="#fff"/><path d="M1220.1 25.5h1.6v1.6h-1.6z" fill="#fff"/><path d="M1219 29.2L1220.9 31L1222.8 29.2" stroke="#fff" stroke-width="1.1" fill="none"/>
<rect x="1233.2" y="568.8" width="47" height="4.2" fill="#fff"/>
<rect x="1220.7" y="741" width="1" height="3.2" fill="#cfcfcf"/>
<rect x="1233.1" y="568" width="47" height="1.05" fill="#7c7c7c"/>
<g font-family="'Liberation Sans','Noto Sans CJK JP',sans-serif">
<rect x="4.3" y="8.6" width="10.8" height="9.8" fill="#fff" stroke="#9b9b9b" stroke-width="1"/>
<rect x="6.6" y="13" width="6.2" height="1" fill="#8a8a8a"/>
<text x="21.2" y="18.7" font-size="14" fill="#4b4b4b" textLength="40.6" lengthAdjust="spacingAndGlyphs" stroke="#4b4b4b" stroke-width="0.3">KOSPI,</text>
<text x="67.6" y="18.1" font-size="14.4" fill="#4b4b4b" textLength="30.4" lengthAdjust="spacingAndGlyphs">韓国</text>
<text x="98.6" y="18.7" font-size="14" fill="#4b4b4b">,</text>
<text x="105.6" y="18.1" font-size="14.4" fill="#4b4b4b" textLength="16.2" lengthAdjust="spacingAndGlyphs">日</text>
<text x="121.2" y="18.7" font-size="14" fill="#4b4b4b">,</text>
<text x="131.6" y="18.1" font-size="14.4" fill="#4b4b4b" textLength="42.5" lengthAdjust="spacingAndGlyphs">ソウル</text>
<path d="M179.3 12L184.5 12L181.9 15.1Z" fill="#bdbdbd"/>
<rect x="194.0" y="8.5" width="11.6" height="11.3" fill="#dedede"/>
<rect x="209.0" y="8.5" width="11.6" height="11.3" fill="#dedede"/>
<circle cx="199.8" cy="14.1" r="3.1" fill="none" stroke="#fff" stroke-width="1.1"/><circle cx="199.8" cy="14.1" r="1.1" fill="#fff"/>
<circle cx="214.8" cy="14.1" r="2.5" fill="none" stroke="#fff" stroke-width="1.5"/><path d="M214.8 10.2V18M210.9 14.1H218.7M212 11.3L217.6 16.9M217.6 11.3L212 16.9" stroke="#fff" stroke-width="1.2"/><circle cx="214.8" cy="14.1" r="1.2" fill="#dedede"/>
<text x="227.2" y="18.3" font-size="12.8" fill="#4b4b4b" textLength="25.6" lengthAdjust="spacingAndGlyphs">始値</text>
<text x="254" y="18.7" font-size="12.6" fill="#7b3b3b" textLength="44.4" lengthAdjust="spacingAndGlyphs" stroke="#7b3b3b" stroke-width="0.25">3732.76</text>
<text x="306.9" y="18.3" font-size="12.8" fill="#4b4b4b" textLength="25.9" lengthAdjust="spacingAndGlyphs">高値</text>
<text x="334" y="18.7" font-size="12.6" fill="#7b3b3b" textLength="43.9" lengthAdjust="spacingAndGlyphs" stroke="#7b3b3b" stroke-width="0.25">3794.87</text>
<text x="387" y="18.3" font-size="12.8" fill="#4b4b4b" textLength="25.3" lengthAdjust="spacingAndGlyphs">安値</text>
<text x="413.4" y="18.7" font-size="12.6" fill="#7b3b3b" textLength="44.4" lengthAdjust="spacingAndGlyphs" stroke="#7b3b3b" stroke-width="0.25">3722.07</text>
<text x="466.8" y="18.3" font-size="12.8" fill="#4b4b4b" textLength="26" lengthAdjust="spacingAndGlyphs">終値</text>
<text x="493.4" y="18.7" font-size="12.6" fill="#7b3b3b" textLength="44.4" lengthAdjust="spacingAndGlyphs" stroke="#7b3b3b" stroke-width="0.25">3748.89</text>
<text x="11.7" y="553.7" font-size="17.5" fill="#0d0d0d" textLength="76" lengthAdjust="spacingAndGlyphs" font-weight="bold" stroke="#0d0d0d" stroke-width="0.7" stroke-linejoin="round">Investing</text>
<rect x="61.6" y="538.8" width="5.6" height="4.6" fill="#fff"/>
<path d="M62.4 543.1L63.4 540.7L66.7 539.3L65.8 541.9Z" fill="#f7941d"/>
<text x="89.2" y="553.7" font-size="13.2" fill="#3c3c3c" textLength="25.4" lengthAdjust="spacingAndGlyphs">.com</text>
<text x="4" y="584.6" font-size="10" fill="#555" textLength="31" lengthAdjust="spacingAndGlyphs">出来高</text>
<text x="38.6" y="584.7" font-size="10.4" fill="#555" textLength="17.6" lengthAdjust="spacingAndGlyphs">(20)</text>
<path d="M60.6 580.1L66.2 580.1L63.4 583Z" fill="#bdbdbd"/>
<rect x="75.6" y="575.6" width="11.8" height="11.9" fill="#dedede"/>
<rect x="90.2" y="575.6" width="11.8" height="11.9" fill="#dedede"/>
<rect x="104.8" y="575.6" width="11.8" height="11.9" fill="#dedede"/>
<circle cx="81.5" cy="581.5" r="3.1" fill="none" stroke="#fff" stroke-width="1.1"/><circle cx="81.5" cy="581.5" r="1.1" fill="#fff"/>
<circle cx="96.1" cy="581.5" r="2.5" fill="none" stroke="#fff" stroke-width="1.5"/><path d="M96.1 577.6V585.4M92.2 581.5H100M93.3 578.7L98.9 584.3M98.9 578.7L93.3 584.3" stroke="#fff" stroke-width="1.2"/><circle cx="96.1" cy="581.5" r="1.2" fill="#dedede"/>
<path d="M107.3 578.1L114.1 584.9M114.1 578.1L107.3 584.9" stroke="#fff" stroke-width="1.3"/>
<text x="123.6" y="584.8" font-size="10.2" fill="#ff5d58" textLength="38.3" lengthAdjust="spacingAndGlyphs">414.13M</text>
<text x="170.5" y="584.8" font-size="10.2" fill="#222" textLength="43.5" lengthAdjust="spacingAndGlyphs">416.709M</text>
<text x="1238.1" y="11.9" font-size="9.4" fill="#fff" textLength="34.2" lengthAdjust="spacingAndGlyphs" font-weight="bold">3940.69</text>
<text x="1238.1" y="73.6" font-size="9.4" fill="#fff" textLength="34.2" lengthAdjust="spacingAndGlyphs" font-weight="bold">3748.89</text>
<text x="1238.1" y="657.3" font-size="9.4" fill="#fff" textLength="41.9" lengthAdjust="spacingAndGlyphs" font-weight="bold">416.709M</text>
<text x="1238.1" y="670.9" font-size="9.4" fill="#fff" textLength="36.6" lengthAdjust="spacingAndGlyphs" font-weight="bold">414.13M</text>
<text x="1179.3" y="751.6" font-size="9.4" fill="#fff" textLength="49" lengthAdjust="spacingAndGlyphs" font-weight="bold">2026-01-14</text>
<text x="-9.21" y="752.9" font-size="9.4" fill="#727272" font-weight="bold">4</text>
<text x="-3.66" y="752.8" font-size="9.75" fill="#727272" font-weight="bold" textLength="8.54" lengthAdjust="spacingAndGlyphs">月</text>
<text x="65.3" y="752.9" font-size="9.4" fill="#727272" font-weight="bold" text-anchor="middle">16</text>
<text x="126.98" y="752.9" font-size="9.4" fill="#727272" font-weight="bold">5</text>
<text x="132.54" y="752.8" font-size="9.75" fill="#727272" font-weight="bold" textLength="8.54" lengthAdjust="spacingAndGlyphs">月</text>
<text x="245.49" y="752.9" font-size="9.4" fill="#727272" font-weight="bold">6</text>
<text x="251.04" y="752.8" font-size="9.75" fill="#727272" font-weight="bold" textLength="8.54" lengthAdjust="spacingAndGlyphs">月</text>
<text x="364.99" y="752.9" font-size="9.4" fill="#727272" font-weight="bold">7</text>
<text x="370.54" y="752.8" font-size="9.75" fill="#727272" font-weight="bold" textLength="8.54" lengthAdjust="spacingAndGlyphs">月</text>
<text x="440.5" y="752.9" font-size="9.4" fill="#727272" font-weight="bold" text-anchor="middle">16</text>
<text x="508.69" y="752.9" font-size="9.4" fill="#727272" font-weight="bold">8</text>
<text x="514.24" y="752.8" font-size="9.75" fill="#727272" font-weight="bold" textLength="8.54" lengthAdjust="spacingAndGlyphs">月</text>
<text x="633.19" y="752.9" font-size="9.4" fill="#727272" font-weight="bold">9</text>
<text x="638.74" y="752.8" font-size="9.75" fill="#727272" font-weight="bold" textLength="8.54" lengthAdjust="spacingAndGlyphs">月</text>
<text x="709" y="752.9" font-size="9.4" fill="#727272" font-weight="bold" text-anchor="middle">16</text>
<text x="767.67" y="752.9" font-size="9.4" fill="#727272" font-weight="bold">10</text>
<text x="778.45" y="752.8" font-size="9.75" fill="#727272" font-weight="bold" textLength="8.54" lengthAdjust="spacingAndGlyphs">月</text>
<text x="886.37" y="752.9" font-size="9.4" fill="#727272" font-weight="bold">11</text>
<text x="897.15" y="752.8" font-size="9.75" fill="#727272" font-weight="bold" textLength="8.54" lengthAdjust="spacingAndGlyphs">月</text>
<text x="1010.87" y="752.9" font-size="9.4" fill="#727272" font-weight="bold">12</text>
<text x="1021.65" y="752.8" font-size="9.75" fill="#727272" font-weight="bold" textLength="8.54" lengthAdjust="spacingAndGlyphs">月</text>
<text x="1089.3" y="752.9" font-size="9.4" fill="#727272" font-weight="bold" text-anchor="middle">16</text>
<text x="1164.5" y="752.9" font-size="9.4" fill="#727272" font-weight="bold" text-anchor="middle">2026</text>
<text x="949.9" y="50.8" font-size="27.6" fill="#000" textLength="56.8" lengthAdjust="spacingAndGlyphs" stroke="#000" stroke-width="0.45">2025</text>
<text x="1008.8" y="50.8" font-size="27" fill="#000" stroke="#000" stroke-width="0.3">年</text>
<text x="1036" y="50.8" font-size="27.6" fill="#000" textLength="29.8" lengthAdjust="spacingAndGlyphs" stroke="#000" stroke-width="0.45">10</text>
<text x="1065.4" y="50.7" font-size="27" fill="#000" stroke="#000" stroke-width="0.3">月</text>
<text x="1094" y="50.8" font-size="27.6" fill="#000" textLength="27.2" lengthAdjust="spacingAndGlyphs" stroke="#000" stroke-width="0.45">17</text>
<text x="1123.8" y="50.8" font-size="27" fill="#000" stroke="#000" stroke-width="0.3">日</text>
<text x="1151.5" y="48.6" font-size="26" fill="#000" stroke="#000" stroke-width="0.2">(</text>
<text x="1159.9" y="51.4" font-size="28" fill="#000" stroke="#000" stroke-width="0.3">金</text>
<text x="1188.8" y="48.6" font-size="26" fill="#000" stroke="#000" stroke-width="0.2">)</text>
<text x="948.4" y="68.8" font-size="15.4" fill="#2b2b2b">(</text>
<text x="953.1" y="69.8" font-size="15.4" fill="#2b2b2b" textLength="31.2" lengthAdjust="spacingAndGlyphs">2025</text>
<text x="984" y="70.2" font-size="16.2" fill="#2b2b2b">年</text>
<text x="1000.8" y="69.8" font-size="15.4" fill="#2b2b2b" textLength="14.8" lengthAdjust="spacingAndGlyphs">10</text>
<text x="1016" y="70.1" font-size="16.2" fill="#2b2b2b">月</text>
<text x="1030.8" y="69.8" font-size="15.4" fill="#2b2b2b" textLength="15.6" lengthAdjust="spacingAndGlyphs">17</text>
<text x="1048" y="70.1" font-size="16" fill="#2b2b2b">日</text>
<text x="1068.3" y="69.8" font-size="15.4" fill="#2b2b2b" textLength="35.4" lengthAdjust="spacingAndGlyphs">15:32</text>
<text x="1103.1" y="70.2" font-size="16" fill="#2b2b2b" textLength="31.6" lengthAdjust="spacingAndGlyphs">現在</text>
<text x="1135" y="68.8" font-size="15.4" fill="#2b2b2b">)</text>
<text x="949.2" y="96.7" font-size="26" fill="#000" stroke="#000" stroke-width="0.3" textLength="56.4" lengthAdjust="spacingAndGlyphs">始値</text>
<rect x="1011.4" y="84" width="2.7" height="2.8" fill="#000"/><rect x="1011.4" y="94" width="2.7" height="2.8" fill="#000"/>
<text x="1020.6" y="96.3" font-size="27.6" fill="#000" textLength="98.8" lengthAdjust="spacingAndGlyphs" stroke="#000" stroke-width="0.45">3,732.76</text>
<text x="949.2" y="126.5" font-size="26" fill="#000" stroke="#000" stroke-width="0.3" textLength="56.4" lengthAdjust="spacingAndGlyphs">高値</text>
<rect x="1011.4" y="113.7" width="2.7" height="2.8" fill="#000"/><rect x="1011.4" y="123.7" width="2.7" height="2.8" fill="#000"/>
<text x="1020.6" y="126" font-size="27.6" fill="#c00000" textLength="98.8" lengthAdjust="spacingAndGlyphs" stroke="#c00000" stroke-width="0.45">3,794.87</text>
<text x="949.2" y="155.9" font-size="26" fill="#000" stroke="#000" stroke-width="0.3" textLength="56.4" lengthAdjust="spacingAndGlyphs">安値</text>
<rect x="1011.4" y="143" width="2.7" height="2.8" fill="#000"/><rect x="1011.4" y="153" width="2.7" height="2.8" fill="#000"/>
<text x="1020.6" y="155.3" font-size="27.6" fill="#000" textLength="98.8" lengthAdjust="spacingAndGlyphs" stroke="#000" stroke-width="0.45">3,722.07</text>
<text x="949.2" y="184.9" font-size="26" fill="#000" stroke="#000" stroke-width="0.3" textLength="56.4" lengthAdjust="spacingAndGlyphs">終値</text>
<rect x="1011.4" y="172.1" width="2.7" height="2.8" fill="#000"/><rect x="1011.4" y="182.1" width="2.7" height="2.8" fill="#000"/>
<text x="1020.6" y="184.4" font-size="27.6" fill="#c00000" textLength="98.8" lengthAdjust="spacingAndGlyphs" stroke="#c00000" stroke-width="0.45">3,748.89</text>
</g>
</svg>

</div></body></html>
